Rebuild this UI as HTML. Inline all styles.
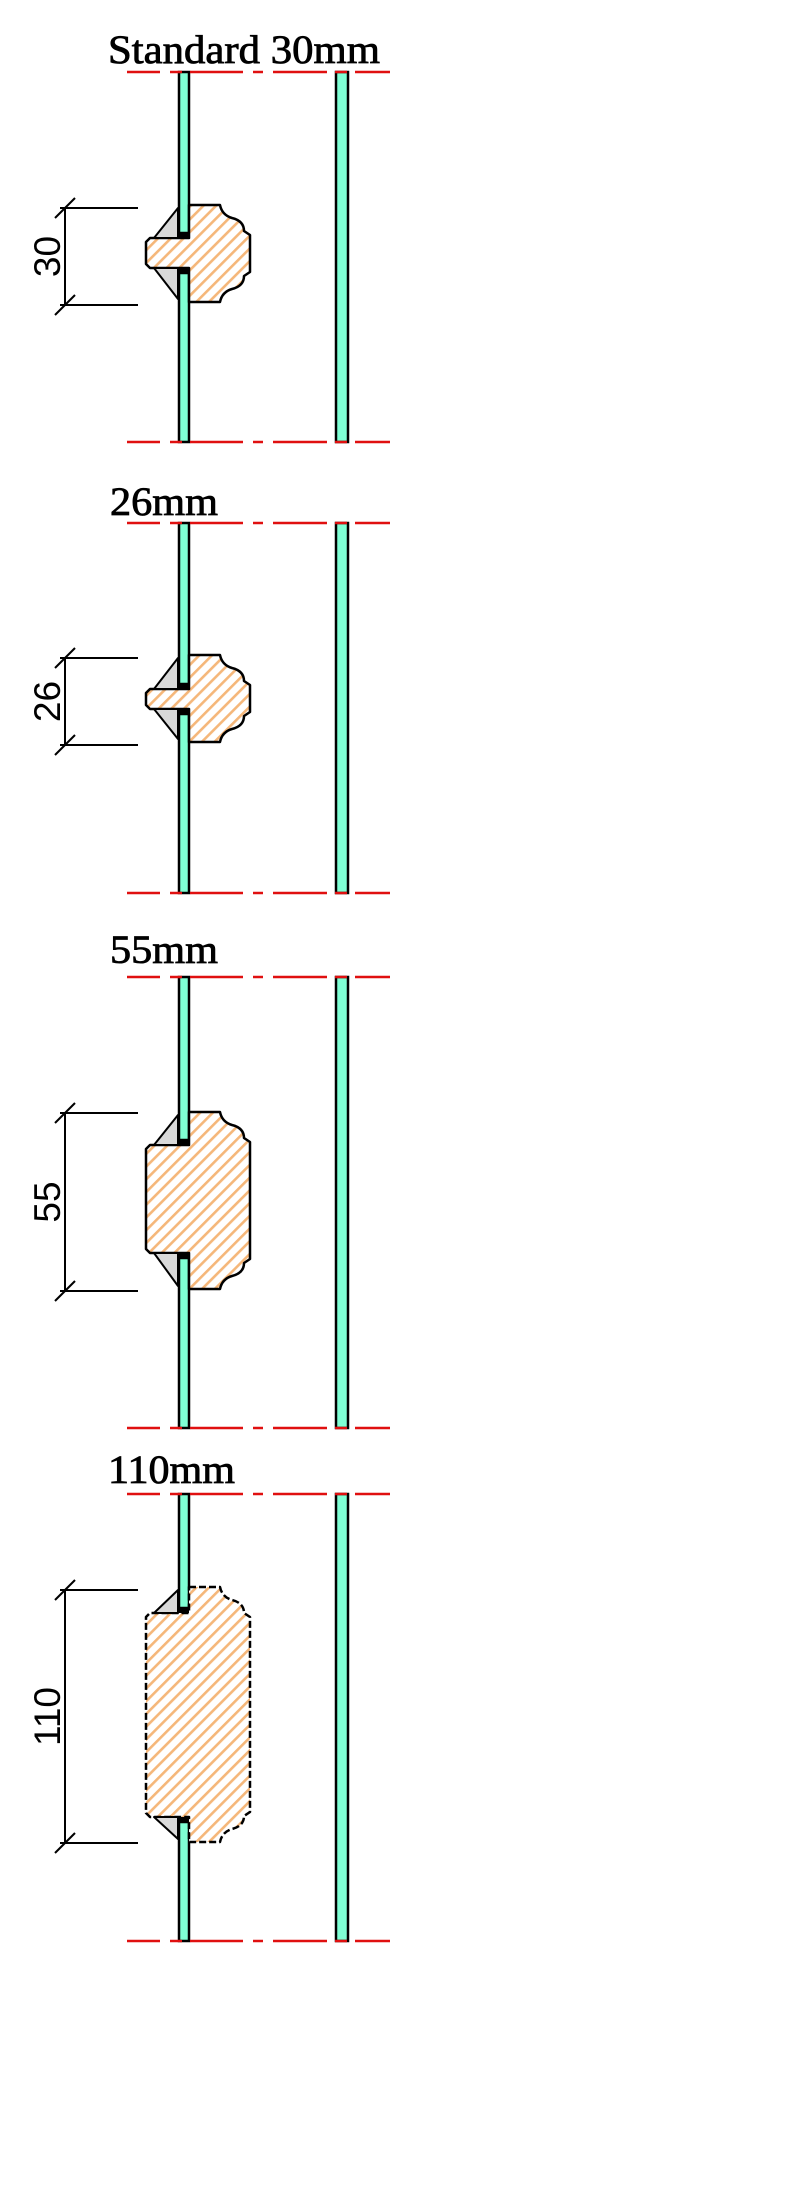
<!DOCTYPE html>
<html><head><meta charset="utf-8"><style>html,body{margin:0;padding:0;background:#fff}svg{display:block}</style></head>
<body>
<svg width="800" height="2187" viewBox="0 0 800 2187" xmlns="http://www.w3.org/2000/svg">
<defs>
<pattern id="h" patternUnits="userSpaceOnUse" width="9" height="9" patternTransform="rotate(45)">
<rect width="9" height="9" fill="#fff"/>
<rect x="0" y="0" width="2.6" height="9" fill="#f5b77a"/>
</pattern>
</defs>
<g id="all">
</g>
<script>
(function(){
var NS="http://www.w3.org/2000/svg",g=document.getElementById("all");
function el(t,a,txt){var e=document.createElementNS(NS,t);for(var k in a)e.setAttribute(k,a[k]);if(txt)e.textContent=txt;g.appendChild(e);return e;}
var P=[
 {title:"Standard 30mm",tx:108,tw:272,tb:63,top:72,bot:442,T:205,B:302,LT:238,LB:268,d:"30",dy1:208,dy2:305,dash:false},
 {title:"26mm",tx:110,tw:108,tb:515,top:523,bot:893,T:655,B:742,LT:689,LB:709,d:"26",dy1:658,dy2:745,dash:false},
 {title:"55mm",tx:110,tw:108,tb:963,top:977,bot:1428,T:1112,B:1289,LT:1145,LB:1253,d:"55",dy1:1113,dy2:1291,dash:false},
 {title:"110mm",tx:108,tw:127,tb:1483,top:1494,bot:1941,T:1587,B:1842,LT:1613,LB:1817,d:"110",dy1:1590,dy2:1843,dash:true}
];
var segs=[[127,160],[170,182],[190,243],[253,263],[273,327],[335,347],[355,390]];
P.forEach(function(p){
 el("text",{x:p.tx,y:p.tb,"font-family":"Liberation Serif, serif","font-size":"40",textLength:p.tw,lengthAdjust:"spacingAndGlyphs",fill:"#000",stroke:"#000","stroke-width":"0.8"},p.title);
 el("rect",{x:179,y:p.top,width:10,height:p.LT-5-p.top,fill:"#7fffd4",stroke:"#000","stroke-width":2.5});
 el("rect",{x:179,y:p.LB+5,width:10,height:p.bot-p.LB-5,fill:"#7fffd4",stroke:"#000","stroke-width":2.5});
 el("rect",{x:336,y:p.top,width:12,height:p.bot-p.top,fill:"#7fffd4",stroke:"#000","stroke-width":2.5});
 var T=p.T,B=p.B,LT=p.LT,LB=p.LB;
 var d="M189,"+T+" L220,"+T+" Q222,"+(T+10)+" 232,"+(T+13)+" Q244,"+(T+16)+" 244,"+(T+26)+" L250,"+(T+30)+
  " L250,"+(B-30)+" L244,"+(B-26)+" Q244,"+(B-16)+" 232,"+(B-13)+" Q222,"+(B-10)+" 220,"+B+" L189,"+B+
  " L189,"+LB+" L150,"+LB+" L146,"+(LB-4)+" L146,"+(LT+4)+" L150,"+LT+" L189,"+LT+" Z";
 var a={d:d,fill:"url(#h)",stroke:"#000","stroke-width":2.5,"stroke-linejoin":"round"};
 if(p.dash){a["stroke-dasharray"]="7 3";}
 el("path",a);
 el("polygon",{points:"178,"+(T+3)+" 178,"+LT+" 154,"+LT,fill:"#d9d9d9",stroke:"#000","stroke-width":2,"stroke-linejoin":"round"});
 el("polygon",{points:"154,"+LB+" 178,"+LB+" 178,"+(B-3),fill:"#d9d9d9",stroke:"#000","stroke-width":2,"stroke-linejoin":"round"});
 el("rect",{x:178,y:LT-5,width:11,height:5,fill:"#000"});
 el("rect",{x:178,y:LB,width:11,height:5,fill:"#000"});
 segs.forEach(function(s){
  el("line",{x1:s[0],x2:s[1],y1:p.top,y2:p.top,stroke:"#e01010","stroke-width":2.5});
  el("line",{x1:s[0],x2:s[1],y1:p.bot,y2:p.bot,stroke:"#e01010","stroke-width":2.5});
 });
 el("line",{x1:65,x2:65,y1:p.dy1,y2:p.dy2,stroke:"#000","stroke-width":2});
 el("line",{x1:60,x2:138,y1:p.dy1,y2:p.dy1,stroke:"#000","stroke-width":2});
 el("line",{x1:60,x2:138,y1:p.dy2,y2:p.dy2,stroke:"#000","stroke-width":2});
 [p.dy1,p.dy2].forEach(function(y){el("line",{x1:55,y1:y+10,x2:75,y2:y-10,stroke:"#000","stroke-width":2});});
 var cy=(p.dy1+p.dy2)/2;
 el("text",{x:0,y:0,transform:"translate(60,"+cy+") rotate(-90)","text-anchor":"middle","font-family":"Liberation Sans, sans-serif","font-size":"37",fill:"#000"},p.d);
});
})();
</script>
</svg>
</body></html>
